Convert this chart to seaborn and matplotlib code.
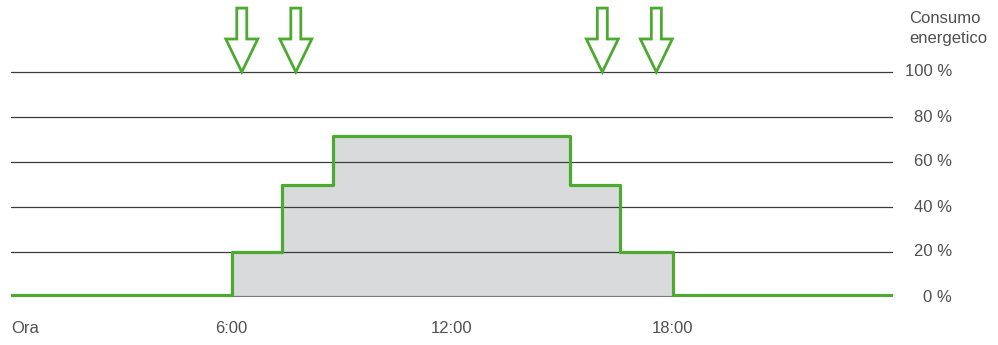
import matplotlib
matplotlib.use("Agg")
import matplotlib.pyplot as plt
from matplotlib.patches import FancyArrow
from matplotlib.transforms import blended_transform_factory
import seaborn as sns
import pandas as pd

# Load profile over the day (hours, % of energy consumption)
hours = [0, 6.0, 7.38, 8.77, 15.2, 16.58, 18.0, 24]
consumption = [0.8, 20, 50, 71.5, 50, 20, 0.8, 0.8]

# Switching events marked with arrows (hours)
event_hours = [6.28, 7.75, 16.09, 17.56]

x_ticks = [0, 6, 12, 18]
x_tick_labels = ["Ora", "6:00", "12:00", "18:00"]
y_levels = [0, 20, 40, 60, 80, 100]
y_labels = ["0 %", "20 %", "40 %", "60 %", "80 %", "100 %"]

GREEN = "#4caa30"
FILL = "#d9dadc"
TEXT = "#505050"

sns.set_theme(style="white")
plt.rcParams["font.family"] = ["Liberation Sans", "DejaVu Sans"]

W, H = 998, 345
fig = plt.figure(figsize=(W / 100, H / 100), dpi=100)
ax = fig.add_axes([11 / W, 48 / H, 882 / W, 297 / H])
ax.set_xlim(0, 24)
ax.set_ylim(0, 132)

df = pd.DataFrame({"ora": hours, "consumo": consumption})

# Area under the load profile
ax.fill_between(df["ora"], 0, df["consumo"], step="post", color=FILL, lw=0, zorder=0)

# Grid lines drawn over the fill
for lvl in y_levels[1:]:
    ax.axhline(lvl, color="#3c3c3c", lw=0.9, zorder=2)
ax.axhline(0, color="#7a7a7a", lw=1.6, zorder=2)

sns.lineplot(data=df, x="ora", y="consumo", drawstyle="steps-post", estimator=None,
             color=GREEN, lw=2.3, ax=ax, zorder=3)

# Event arrows
px_per_h = 882 / 24
px_per_pct = 225 / 100
for h in event_hours:
    top = 128.4
    arr = FancyArrow(h, top, 0, 100 - top, width=10 / px_per_h,
                     head_width=32 / px_per_h, head_length=33 / px_per_pct,
                     length_includes_head=True, facecolor="white",
                     edgecolor=GREEN, lw=2.0, zorder=4, clip_on=False)
    ax.add_patch(arr)

# Axis styling
for s in ax.spines.values():
    s.set_visible(False)
ax.set_xlabel("")
ax.set_ylabel("")
ax.set_yticks([])
ax.set_xticks(x_ticks)
ax.set_xticklabels(x_tick_labels, fontsize=12, color=TEXT)
ax.tick_params(axis="x", length=0, pad=17)
ax.get_xticklabels()[0].set_horizontalalignment("left")

# Right-side percentage labels
trans = blended_transform_factory(ax.transAxes, ax.transData)
for lvl, lab in zip(y_levels, y_labels):
    ax.text((952 - 11) / 882, lvl, lab, transform=trans, ha="right",
            va="center", fontsize=12, color=TEXT, clip_on=False)

fig.text(909 / W, 1 - 11 / H, "Consumo\nenergetico", ha="left", va="top",
         fontsize=12, color=TEXT, linespacing=1.4)

fig.savefig("out.png", dpi=100, facecolor="white")
